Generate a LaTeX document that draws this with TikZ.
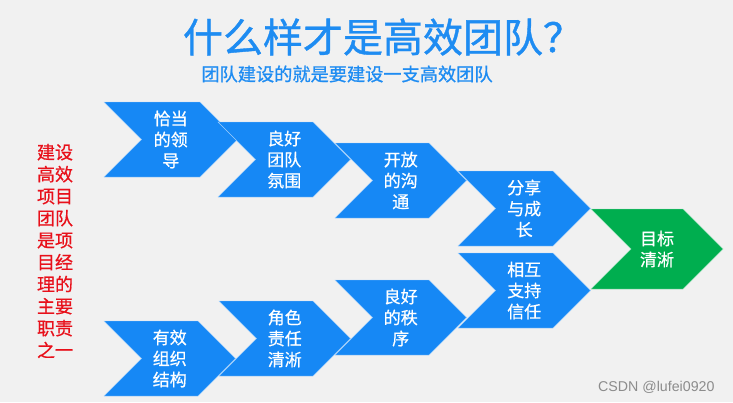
\documentclass[tikz,border=0pt]{standalone}
\usepackage{fontspec}
\setmainfont{Noto Sans CJK SC}
\newfontfamily\heavycjk[FakeBold=1.0]{Noto Sans CJK SC}
\newfontfamily\medcjk[FakeBold=0.6]{Noto Sans CJK SC}
\newfontfamily\wmfont{Liberation Sans}
\definecolor{bg}{HTML}{F1F1F1}
\definecolor{cblue}{HTML}{1688F5}
\definecolor{cgreen}{HTML}{00AE4F}
\definecolor{tblue}{HTML}{1E8CF2}
\definecolor{cred}{HTML}{E8101A}
\tikzset{
  chevfill/.style={fill=#1, draw=white!60!#1, line width=0.4pt, line join=miter},
  chevtext/.style={text=white, align=center, inner sep=0pt, font=\medcjk\fontsize{17}{21}\selectfont},
}
% #1 left x, #2 top y, #3 colour, #4 name, #5 text, #6 body width, #7 height
\newcommand\mychev[7]{%
  \pgfmathsetmacro\dd{#7/2}%
  \fill[chevfill=#3] (#1,#2) -- ++(#6,0) -- ++(\dd,\dd) -- ++(-\dd,\dd) -- ++(-#6,0) -- ++(\dd,-\dd) -- cycle;
  \node[chevtext] (#4) at ({#1+(\dd+#6)/2},{#2+\dd}) {#5};
}
\begin{document}
\begin{tikzpicture}[x=1pt,y=-1pt]
\fill[bg] (0,0) rectangle (733,402);
\useasboundingbox (0,0) rectangle (733,402);
\node[text=tblue, font=\heavycjk\fontsize{40}{42}\selectfont] (title) at (383,37) {什么样才是高效团队？};
\node[text=tblue, font=\heavycjk\fontsize{18.2}{20}\selectfont] (sub) at (347,74) {团队建设的就是要建设一支高效团队};
\node[text=cred, align=center, font=\medcjk\fontsize{18}{22}\selectfont, inner sep=0pt] (side) at (55,251)
  {建设\\高效\\项目\\团队\\是项\\目经\\理的\\主要\\职责\\之一};
\mychev{104}{102}{cblue}{c1}{恰当\\的领\\导}{96}{75}
\mychev{218}{122}{cblue}{c2}{良好\\团队\\氛围}{95}{75}
\mychev{335}{143}{cblue}{c3}{开放\\的沟\\通}{94}{75}
\mychev{458}{171}{cblue}{c4}{分享\\与成\\长}{95}{75}
\mychev{104}{321}{cblue}{c5}{有效\\组织\\结构}{94}{75}
\mychev{219}{301}{cblue}{c6}{角色\\责任\\清淅}{94}{75}
\mychev{335}{280}{cblue}{c7}{良好\\的秩\\序}{94}{75}
\mychev{458}{253}{cblue}{c8}{相互\\支持\\信任}{95}{75}
\mychev{591}{209}{cgreen}{g}{目标\\清淅}{92}{80}
\node[text=black!45, font=\wmfont\fontsize{14.2}{16}\selectfont, anchor=east] (wm) at (718,387) {CSDN @lufei0920};
\end{tikzpicture}
\end{document}
